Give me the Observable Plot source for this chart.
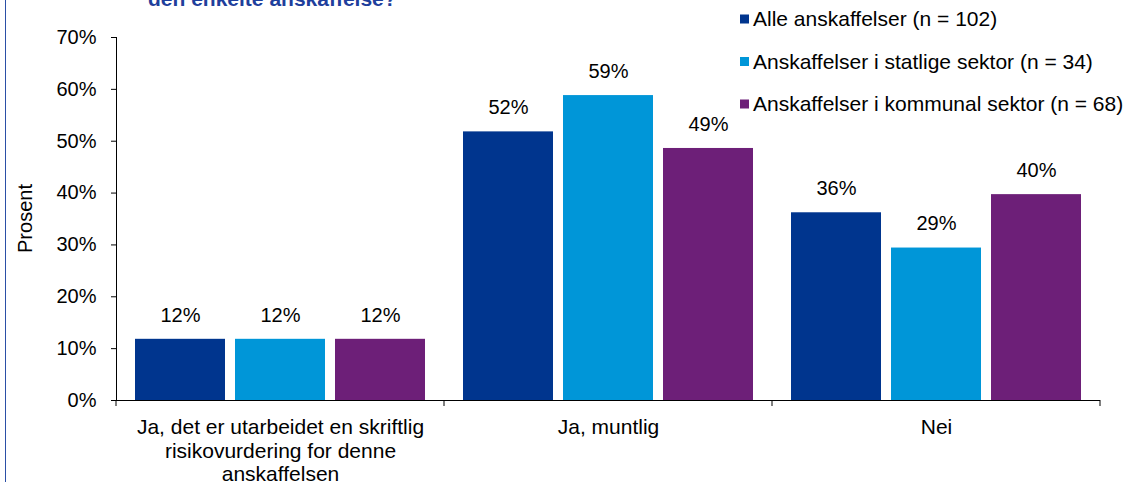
<!DOCTYPE html>
<html><head><meta charset="utf-8">
<script src="https://cdn.jsdelivr.net/npm/d3@7"></script>
<script src="https://cdn.jsdelivr.net/npm/@observablehq/plot@0.6"></script>
<style>
body{margin:0;background:#fff;}
svg{font-family:"Liberation Sans",Arial,sans-serif;}
</style>
</head><body><div id="chart"></div>
<script>
const categories = [
  "Ja, det er utarbeidet en skriftlig\nrisikovurdering for denne\nanskaffelsen",
  "Ja, muntlig",
  "Nei"
];
const series = [
  "Alle anskaffelser (n = 102)",
  "Anskaffelser i statlige sektor (n = 34)",
  "Anskaffelser i kommunal sektor (n = 68)"
];
const alleValues = [0.118, 0.518, 0.362];
const statligValues = [0.118, 0.588, 0.294];
const kommunalValues = [0.118, 0.486, 0.397];
const seriesColors = ["#00358E", "#0096D8", "#6D1F78"];
const yTicks = [0, 0.1, 0.2, 0.3, 0.4, 0.5, 0.6, 0.7];
const titleText = "den enkelte anskaffelse?";
const yLabel = "Prosent";

const valuesBySeries = [alleValues, statligValues, kommunalValues];
const data = [];
categories.forEach((c, i) => {
  series.forEach((s, j) => data.push({cat: c, series: s, value: valuesBySeries[j][i]}));
});
const pct = d => Math.round(d * 100) + "%";

const plot = Plot.plot({
  width: 1130, height: 482,
  marginTop: 37, marginBottom: 82, marginLeft: 115, marginRight: 30,
  style: {fontFamily: '"Liberation Sans", Arial, sans-serif', fontSize: "20px", color: "#000", background: "#fff"},
  fx: {domain: categories, padding: 0, label: null, axis: null},
  x: {domain: series, paddingInner: 0.1, paddingOuter: 0.19, axis: null},
  y: {domain: [0, 0.7], ticks: yTicks, tickFormat: pct, tickSize: 5, tickPadding: 15, line: true, label: null},
  color: {domain: series, range: seriesColors},
  marks: [
    Plot.barY(data, {fx: "cat", x: "series", y: "value", fill: "series"}),
    Plot.text(data, {fx: "cat", x: "series", y: "value", text: d => pct(d.value), dy: -24, fontSize: 20, fill: "#000"}),
    Plot.ruleY([0], {stroke: "#000"}),
    Plot.axisFx({anchor: "bottom", tickSize: 0, tickPadding: 17, fontSize: 21, lineHeight: 1.12, label: null, fill: "#000"})
  ]
});

const svg = d3.select(plot);
svg.attr("overflow", "hidden");
const fx = plot.scale("fx");
const y = plot.scale("y");
const y0 = y.apply(0);
// category boundary ticks
const edges = categories.map(c => fx.apply(c));
edges.push(fx.apply(categories[categories.length - 1]) + fx.bandwidth);
svg.append("g").selectAll("line").data(edges).join("line")
  .attr("x1", d => d).attr("x2", d => d)
  .attr("y1", y0).attr("y2", y0 + 6)
  .attr("stroke", "#000");

// y label
svg.append("text")
  .attr("transform", `translate(25,${(y.apply(0) + y.apply(0.7)) / 2}) rotate(-90)`)
  .attr("text-anchor", "middle").attr("dy", "0.35em")
  .attr("font-size", 20).attr("fill", "#000").text(yLabel);

// title (partially clipped at top edge, as in the reference)
svg.append("text").attr("x", 148).attr("y", 6)
  .attr("text-anchor", "start")
  .attr("font-size", 21).attr("font-weight", "bold").attr("fill", "#1F3F9C")
  .text(titleText);

// left border
svg.append("line").attr("x1", 5.5).attr("x2", 5.5).attr("y1", 0).attr("y2", 482)
  .attr("stroke", "#2B4FA6").attr("stroke-width", 1);

// legend
const lg = svg.append("g");
series.forEach((s, i) => {
  const cy = 19 + i * 42.5;
  lg.append("rect").attr("x", 740).attr("y", cy - 4.5).attr("width", 9).attr("height", 9).attr("fill", seriesColors[i]);
  lg.append("text").attr("x", 753).attr("y", cy).attr("dy", "0.35em")
    .attr("text-anchor", "start").attr("font-size", 21).attr("fill", "#000").text(s);
});

document.getElementById("chart").appendChild(plot);
</script>
</body></html>
